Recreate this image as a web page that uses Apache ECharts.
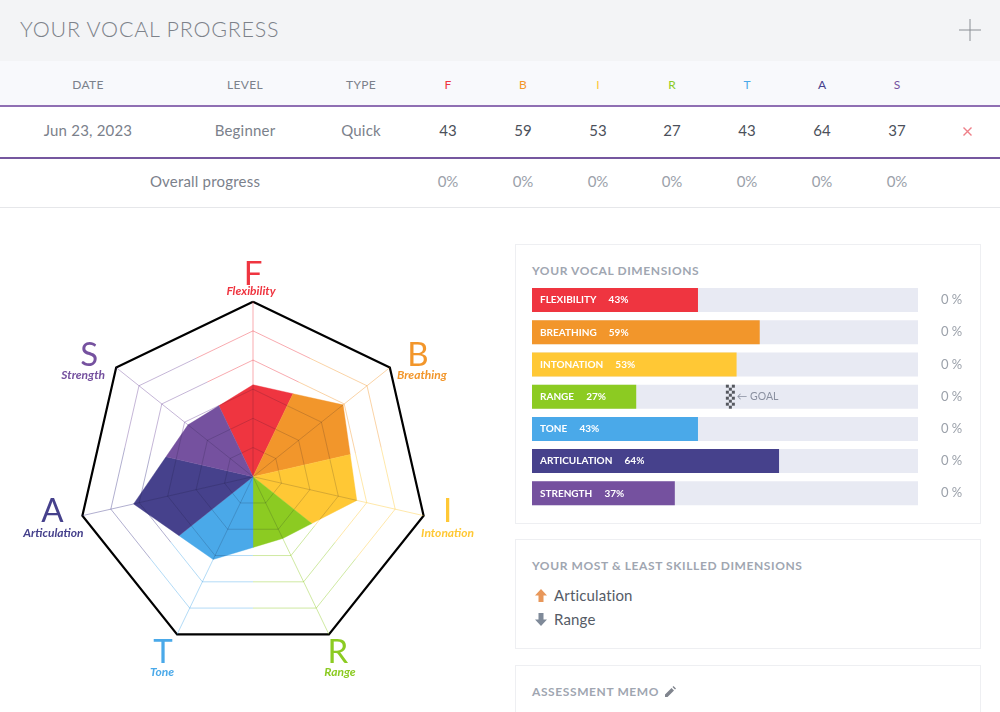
<!DOCTYPE html>
<html>
<head>
<meta charset="utf-8">
<title>Your vocal progress</title>
<style>
html, body { margin: 0; padding: 0; background: #fff; }
body { width: 1000px; height: 712px; overflow: hidden; position: relative; font-family: "Lato", sans-serif; color: #6f7782; }
.band { position: absolute; left: 0; width: 1000px; }
.cell { position: absolute; transform: translate(-50%, -50%); white-space: nowrap; }
.head-title { position: absolute; left: 20px; top: 16px; font-size: 21.5px; font-weight: 300; letter-spacing: .75px; color: #7d828a; }
.card { position: absolute; left: 515px; width: 464px; border: 1px solid #eeeff2; box-sizing: content-box; }
.card-title { position: absolute; left: 16px; font-size: 12px; font-weight: 700; letter-spacing: .6px; color: #a0a6b1; white-space: nowrap; }
.skill { position: absolute; left: 38px; font-size: 15px; letter-spacing: .15px; color: #555b66; }
.icon { position: absolute; }
</style>
</head>
<body>
<div class="band" style="top:0;height:61px;background:#f3f4f6"></div>
<div class="band" style="top:61px;height:44px;background:#f8f9fc"></div>
<div class="band" style="top:105px;height:2px;background:#8f6fb3"></div>
<div class="band" style="top:157px;height:2px;background:#75579f"></div>
<div class="band" style="top:207px;height:1px;background:#e6e7ea"></div>
<div class="head-title">YOUR VOCAL PROGRESS</div>
<svg class="icon" style="left:959px;top:19px" width="22" height="22"><path d="M11 0V22M0 11H22" stroke="#8a8e94" stroke-width="1" fill="none"/></svg>
<svg class="icon" style="left:962px;top:126px" width="11" height="11"><path d="M1.5 1.5L9.5 9.5M9.5 1.5L1.5 9.5" stroke="#ee7f88" stroke-width="1.4" fill="none"/></svg>
<div id="table"></div>

<div id="radar" style="position:absolute;left:0;top:208px;width:510px;height:504px"></div>

<div class="card" style="top:244px;height:278px">
  <div class="card-title" style="top:18px">YOUR VOCAL DIMENSIONS</div>
</div>
<div id="bars" style="position:absolute;left:515px;top:244px;width:466px;height:279px"></div>

<div class="card" style="top:539px;height:108px">
  <div class="card-title" style="top:18px">YOUR MOST &amp; LEAST SKILLED DIMENSIONS</div>
  <svg class="icon" style="left:19px;top:49px" width="12" height="13"><path d="M6 0L12 6.5H8.5V13H3.500V6.500H0Z" fill="#e8975a"/></svg>
  <div class="skill" id="most" style="top:46px"></div>
  <svg class="icon" style="left:19px;top:73px" width="12" height="13"><path d="M6 13L12 6.500H8.500V0H3.500V6.500H0Z" fill="#7f8a99"/></svg>
  <div class="skill" id="least" style="top:70px"></div>
</div>
<div class="card" style="top:665px;height:60px">
  <div class="card-title" style="top:18px">ASSESSMENT MEMO
    <svg style="vertical-align:-1px;margin-left:2px" width="11" height="11"><path d="M0 11V8.500L6.500 2L9 4.500L2.500 11ZM7.500 1L8.500 0L11 2.500L10 3.500Z" fill="#80858e"/></svg>
  </div>
</div>

<script src="https://cdn.jsdelivr.net/npm/echarts@6/dist/echarts.min.js"></script>
<script>
var letters = ['F', 'B', 'I', 'R', 'T', 'A', 'S'];
var dimensions = ['Flexibility', 'Breathing', 'Intonation', 'Range', 'Tone', 'Articulation', 'Strength'];
var scores = [43, 59, 53, 27, 43, 64, 37];
var overall = [0, 0, 0, 0, 0, 0, 0];
var goalDimension = 'Range';
var goalValue = 51;
var colors = ['#ef3540', '#f2962b', '#ffc835', '#8ccb22', '#4aa9e9', '#46418c', '#75519f'];

// table at the top
var columns = [448, 523, 598, 672, 747, 822, 897];
var html = '';
function cell(x, y, text, style) {
  html += '<div class="cell" style="left:' + x + 'px;top:' + y + 'px;' + style + '">' + text + '</div>';
}
var thead = 'font-size:12px;letter-spacing:.3px;color:#7b818b;';
cell(88, 83.5, 'DATE', thead);
cell(245, 83.5, 'LEVEL', thead);
cell(361, 83.5, 'TYPE', thead);
cell(88, 130, 'Jun 23, 2023', 'font-size:15px;letter-spacing:.2px;color:#7b818b');
cell(245, 130, 'Beginner', 'font-size:15px;letter-spacing:.2px;color:#7b818b');
cell(361, 130, 'Quick', 'font-size:15px;letter-spacing:.2px;color:#7b818b');
cell(205, 181, 'Overall progress', 'font-size:15px;letter-spacing:.2px;color:#7b818b');
letters.forEach(function (l, i) {
  cell(columns[i], 83.5, l, 'font-size:12px;color:' + colors[i]);
  cell(columns[i], 130, scores[i], 'font-size:15px;color:#4b505a');
  cell(columns[i], 181, overall[i] + '%', 'font-size:15px;color:#9ba1aa');
});
document.getElementById('table').innerHTML = html;

var best = scores.indexOf(Math.max.apply(null, scores));
var worst = scores.indexOf(Math.min.apply(null, scores));
document.getElementById('most').textContent = dimensions[best];
document.getElementById('least').textContent = dimensions[worst];

// spider chart: radar for the frame, polar custom series for the coloured wedges
var rings = [0, 20, 40, 60, 80, 100];
var nameOffset = [[0, -27], [28, -12], [24, -4], [9, 18], [-14, 18], [-30, -4], [-27, -12]];
var subOffset = [[-2, -11], [32, 8], [24, 17], [11, 37.5], [-15, 37.5], [-29, 17], [-33, 8]];

function hexAlpha(hex, a) {
  var n = parseInt(hex.slice(1), 16);
  return 'rgba(' + (n >> 16) + ',' + ((n >> 8) & 255) + ',' + (n & 255) + ',' + a + ')';
}

function renderSector(params, api) {
  var value = api.value(0), i = api.value(1);
  var prev = (i + 6) % 7, next = (i + 1) % 7;
  var center = api.coord([-20, i]);
  function dist(p) { return Math.sqrt(Math.pow(p[0] - center[0], 2) + Math.pow(p[1] - center[1], 2)); }
  // point where the edge p-q crosses the line halfway between the two axes
  function cut(p, q) {
    var a = dist(p), b = dist(q), t = a / (a + b);
    return [p[0] + (q[0] - p[0]) * t, p[1] + (q[1] - p[1]) * t];
  }
  function outline(v, vPrev, vNext) {
    var p = api.coord([v, i]);
    return [cut(p, api.coord([vPrev, prev])), p, cut(p, api.coord([vNext, next]))];
  }
  var wedge = [center].concat(outline(value, scores[prev], scores[next]));
  var lines = [[center, api.coord([100, i])]];
  rings.slice(0, 5).forEach(function (v) { lines.push(outline(v, v, v)); });
  function lineEls(color) {
    return lines.map(function (pts) {
      return { type: 'polyline', shape: { points: pts }, style: { stroke: color, lineWidth: 1, fill: null } };
    });
  }
  var tip = api.coord([100, i]);
  return {
    type: 'group',
    children: lineEls(hexAlpha(colors[i], 0.42)).concat([
      { type: 'polygon', shape: { points: wedge }, style: { fill: colors[i], stroke: colors[i], lineWidth: 0.4 } },
      { type: 'group', children: lineEls('rgba(20,20,40,0.17)'), clipPath: { type: 'polygon', shape: { points: wedge } } },
      { type: 'text', x: tip[0] + nameOffset[i][0], y: tip[1] + nameOffset[i][1],
        style: { text: letters[i], fill: colors[i], fontFamily: 'Lato', fontSize: 33, fontWeight: 400, align: 'center', verticalAlign: 'middle' } },
      { type: 'text', x: tip[0] + subOffset[i][0], y: tip[1] + subOffset[i][1],
        style: { text: dimensions[i], fill: colors[i], fontFamily: 'Lato', fontSize: 12, fontStyle: 'italic', fontWeight: 700, align: 'center', verticalAlign: 'middle' } }
    ])
  };
}

var radarChart = echarts.init(document.getElementById('radar'));
radarChart.setOption({
  animation: false,
  radar: {
    center: [253, 268.7],
    radius: 175,
    clockwise: true,
    startAngle: 90,
    splitNumber: 6,
    shape: 'polygon',
    indicator: dimensions.map(function (d) { return { name: d, min: -20, max: 100 }; }),
    axisName: { show: false },
    axisLine: { show: false },
    axisTick: { show: false },
    splitArea: { show: false },
    splitLine: { lineStyle: { width: 2.2, color: ['rgba(0,0,0,0)', 'rgba(0,0,0,0)', 'rgba(0,0,0,0)', 'rgba(0,0,0,0)', 'rgba(0,0,0,0)', 'rgba(0,0,0,0)', '#000'] } }
  },
  polar: { center: [253, 268.7], radius: 175 },
  radiusAxis: { type: 'value', min: -20, max: 100, interval: 20, show: false },
  angleAxis: { type: 'value', min: 0, max: 7, startAngle: 90, clockwise: true, show: false },
  series: [
    { type: 'radar', z: 2, symbol: 'none', lineStyle: { width: 0 }, areaStyle: { color: '#ffffff', opacity: 1 },
      data: [{ value: scores, name: 'Score' }] },
    { type: 'custom', z: 3, coordinateSystem: 'polar', renderItem: renderSector, encode: { radius: 0, angle: 1 },
      clip: false, silent: true, data: scores.map(function (v, i) { return [v, i]; }) }
  ]
});

// horizontal bars
var barChart = echarts.init(document.getElementById('bars'));
barChart.setOption({
  animation: false,
  grid: { left: 17, top: 40, width: 386, height: 225.4 },
  xAxis: { type: 'value', min: 0, max: 100, show: false },
  yAxis: [
    { type: 'category', inverse: true, data: dimensions, show: false },
    { type: 'category', inverse: true, position: 'right', data: overall.map(function (v) { return v + ' %'; }),
      axisLine: { show: false }, axisTick: { show: false },
      axisLabel: { margin: 23, color: '#9ba1aa', fontFamily: 'Lato', fontSize: 13, padding: [3, 0, 0, 0] } }
  ],
  series: [
    {
      type: 'bar', barWidth: 24, showBackground: true, backgroundStyle: { color: '#e8eaf3' },
      data: scores.map(function (v, i) { return { value: v, itemStyle: { color: colors[i] } }; }),
      label: {
        show: true, position: 'insideLeft', distance: 8, color: '#fff', fontFamily: 'Lato', fontSize: 10, fontWeight: 700,
        formatter: function (p) { return p.name.toUpperCase() + '     ' + p.value + '%'; }
      }
    },
    {
      type: 'custom', z: 4, silent: true, data: [[goalValue, goalDimension]], encode: { x: 0, y: 1 },
      renderItem: function (params, api) {
        var p = api.coord([api.value(0), api.value(1)]);
        var kids = [];
        for (var r = 0; r < 8; r++) {
          for (var c = 0; c < 3; c++) {
            if ((r + c) % 2 === 0) {
              kids.push({ type: 'rect', shape: { x: p[0] - 3 + c * 3, y: p[1] - 12 + r * 3, width: 3, height: 3 }, style: { fill: '#55585f' } });
            }
          }
        }
        kids.push({ type: 'text', x: p[0] + 8, y: p[1], style: { text: '← GOAL', fill: '#8a90a0', fontFamily: 'Lato', fontSize: 10.5, verticalAlign: 'middle' } });
        return { type: 'group', children: kids };
      }
    }
  ]
});
</script>
</body>
</html>
